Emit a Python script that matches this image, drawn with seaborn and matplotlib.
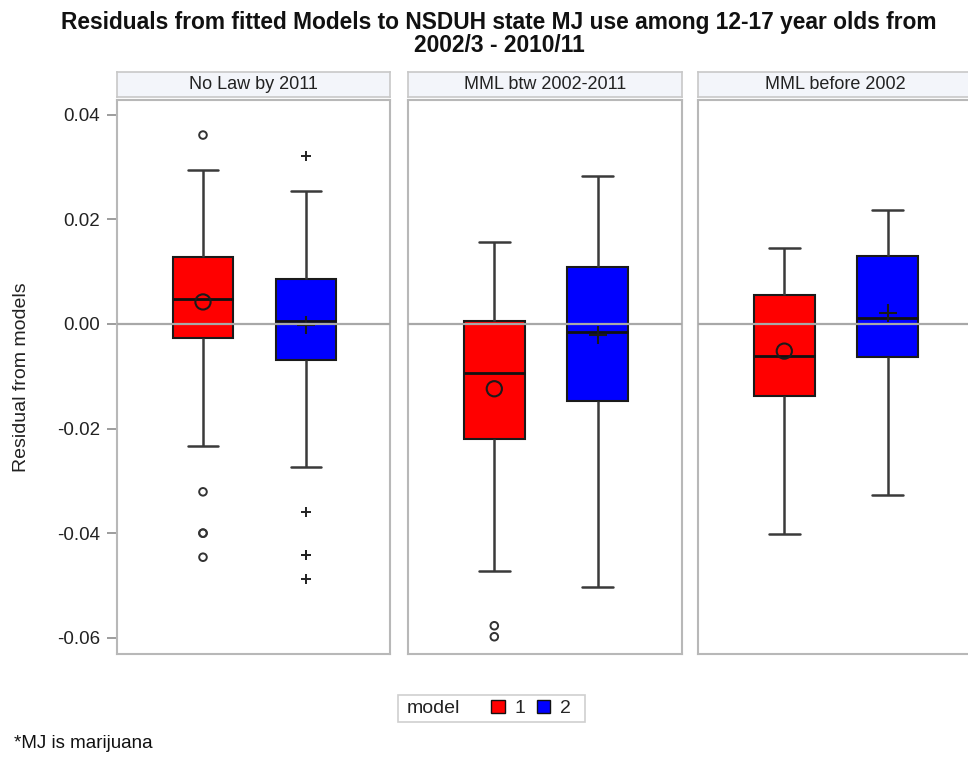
import matplotlib
matplotlib.use("Agg")
import matplotlib.pyplot as plt
from matplotlib.patches import Patch, Rectangle
import pandas as pd
import seaborn as sns

# ---- data -------------------------------------------------------------
panels = ["No Law by 2011", "MML btw 2002-2011", "MML before 2002"]
models = ["1", "2"]

# box summaries per panel: [model 1, model 2]
whisker_low = [[-0.0233, -0.0273], [-0.0472, -0.0503], [-0.0402, -0.0327]]
q1 = [[-0.0027, -0.0069], [-0.0220, -0.0147], [-0.0137, -0.0063]]
median = [[0.0048, 0.0006], [-0.0094, -0.0015], [-0.0061, 0.0011]]
q3 = [[0.0128, 0.0086], [0.0006, 0.0109], [0.0055, 0.0130]]
whisker_high = [[0.0294, 0.0254], [0.0157, 0.0283], [0.0145, 0.0218]]
means = [[0.0042, -0.0002], [-0.0124, -0.0021], [-0.0052, 0.0021]]
outliers = [
    [[0.0361, -0.0321, -0.0400, -0.0400, -0.0446],
     [0.0321, -0.0360, -0.0442, -0.0442, -0.0488]],
    [[-0.0577, -0.0598], []],
    [[], []],
]

ytick_values = [-0.06, -0.04, -0.02, 0.00, 0.02, 0.04]
title_lines = ["Residuals from fitted Models to NSDUH state MJ use among 12-17 year olds from",
               "2002/3 - 2010/11"]
y_label = "Residual from models"
footnote = "*MJ is marijuana"
legend_title = "model"

model_colors = {"1": "#FF0000", "2": "#0000FF"}
mean_markers = {"1": "o", "2": "+"}

# ---- tidy tables --------------------------------------------------------
box_rows, mean_rows, out_rows = [], [], []
for i, p in enumerate(panels):
    for j, m in enumerate(models):
        for v in (whisker_low[i][j], q1[i][j], median[i][j], q3[i][j], whisker_high[i][j]):
            box_rows.append({"panel": p, "model": m, "value": v})
        mean_rows.append({"panel": p, "model": m, "pos": j, "value": means[i][j]})
        for v in outliers[i][j]:
            out_rows.append({"panel": p, "model": m, "pos": j, "value": v})
box_df = pd.DataFrame(box_rows)
mean_df = pd.DataFrame(mean_rows)
out_df = pd.DataFrame(out_rows)

# ---- figure -------------------------------------------------------------
sns.set_theme(style="white")
plt.rcParams["font.family"] = ["Liberation Sans", "DejaVu Sans"]

W, H = 968, 758
fig = plt.figure(figsize=(W / 100, H / 100), dpi=100)
fig.patch.set_facecolor("white")


def fbox(x0, y0, x1, y1):
    return [x0 / W, 1 - y1 / H, (x1 - x0) / W, (y1 - y0) / H]


panel_x = [(117, 390), (408, 682), (698, 972)]
plot_top, plot_bottom = 100, 654
strip_top, strip_bottom = 72, 97
frame_color = "#B8B8B8"
ink = "#1A1A1A"

for i, p in enumerate(panels):
    x0, x1 = panel_x[i]
    ax = fig.add_axes(fbox(x0, plot_top, x1, plot_bottom))
    sub = box_df[box_df["panel"] == p]
    sns.boxplot(
        data=sub, x="model", y="value", hue="model",
        order=models, hue_order=models, palette=model_colors, saturation=1,
        width=0.59, whis=(0, 100), showfliers=False,
        linecolor=ink, linewidth=1.5, legend=False, ax=ax,
        whiskerprops=dict(color="#3A3A3A", linewidth=1.8),
        capprops=dict(color="#3A3A3A", linewidth=1.8),
        medianprops=dict(color="#111111", linewidth=2.0),
        boxprops=dict(edgecolor=ink, linewidth=1.5),
    )

    # means
    for m in models:
        md = mean_df[(mean_df["panel"] == p) & (mean_df["model"] == m)]
        if mean_markers[m] == "o":
            sns.scatterplot(data=md, x="pos", y="value", marker="o", s=120,
                            facecolor="none", edgecolor=ink, linewidth=1.5,
                            legend=False, ax=ax, zorder=5)
        else:
            sns.scatterplot(data=md, x="pos", y="value", marker="+", s=170,
                            color=ink, linewidth=1.5, legend=False, ax=ax, zorder=5)

    # outliers
    for m in models:
        od = out_df[(out_df["panel"] == p) & (out_df["model"] == m)]
        if len(od) == 0:
            continue
        if mean_markers[m] == "o":
            sns.scatterplot(data=od, x="pos", y="value", marker="o", s=30,
                            facecolor="none", edgecolor="#333333", linewidth=1.4,
                            legend=False, ax=ax, zorder=5)
        else:
            sns.scatterplot(data=od, x="pos", y="value", marker="+", s=45,
                            color="#222222", linewidth=1.4, legend=False, ax=ax, zorder=5)

    ax.axhline(0, color="#A8A8A8", linewidth=1.6, zorder=6)
    ax.set_xlim(-0.835, 1.816)
    ax.set_ylim(-0.0631, 0.0428)
    ax.set_xlabel("")
    ax.set_ylabel("")
    ax.set_xticks([])
    for s in ax.spines.values():
        s.set_color(frame_color)
        s.set_linewidth(1.5)
    if i == 0:
        ax.set_yticks(ytick_values)
        ax.set_yticklabels([f"{v:.2f}" for v in ytick_values])
        ax.tick_params(axis="y", direction="out", length=7, width=1.2,
                       color="#8C8C8C", labelsize=13.5, labelcolor="#222222", pad=5,
                       left=True)
    else:
        ax.set_yticks([])

    # panel header strip
    sax = fig.add_axes(fbox(x0, strip_top, x1, strip_bottom))
    sax.set_facecolor("#F3F5FA")
    sax.set_xticks([])
    sax.set_yticks([])
    for s in sax.spines.values():
        s.set_color("#C8C8C8")
        s.set_linewidth(1.2)
    sax.text(0.5, 0.5, p, ha="center", va="center", fontsize=13,
             color="#222222", transform=sax.transAxes)

# title
fig.text(499 / W, 1 - 22 / H, title_lines[0], ha="center", va="center",
         fontsize=16.4, fontweight="bold", color="#111111")
fig.text(499 / W, 1 - 45 / H, title_lines[1], ha="center", va="center",
         fontsize=16.4, fontweight="bold", color="#111111")

# y axis label
fig.text(22 / W, 1 - 377 / H, y_label, rotation=90, ha="center", va="center",
         fontsize=14, color="#222222")

# legend with inline title
fig.add_artist(Rectangle((398 / W, 1 - 722 / H), (585 - 398) / W, (722 - 695) / H,
                         transform=fig.transFigure, facecolor="white",
                         edgecolor="#CFCFCF", linewidth=1.2))
fig.text(407 / W, 1 - 708.5 / H, legend_title, ha="left", va="center",
         fontsize=14, color="#222222")
handles = [Patch(facecolor=model_colors[m], edgecolor="#111111", linewidth=1.0) for m in models]
fig.legend(handles, models, loc="center left", bbox_to_anchor=(491 / W, 1 - 708.5 / H),
           ncol=2, frameon=False, fontsize=14, handlelength=0.7, handleheight=0.7,
           handletextpad=0.5, columnspacing=0.6, borderpad=0, borderaxespad=0)

# footnote
fig.text(14 / W, 1 - 743 / H, footnote, ha="left", va="center", fontsize=13.5,
         color="#111111")

fig.savefig("out.png", dpi=100)
